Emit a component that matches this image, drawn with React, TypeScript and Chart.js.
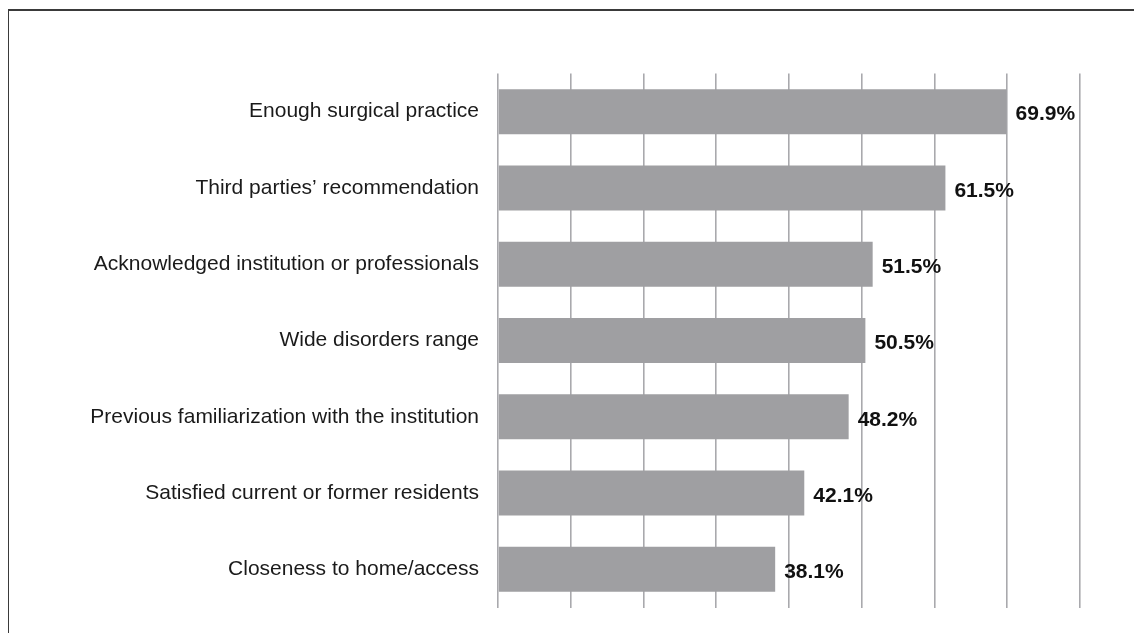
import React, { useEffect, useRef } from "react";
import { Chart, registerables } from "chart.js";

Chart.register(...registerables);

const categories = [
  "Enough surgical practice",
  "Third parties’ recommendation",
  "Acknowledged institution or professionals",
  "Wide disorders range",
  "Previous familiarization with the institution",
  "Satisfied current or former residents",
  "Closeness to home/access",
];
const values = [69.9, 61.5, 51.5, 50.5, 48.2, 42.1, 38.1];
const valueLabels = ["69.9%", "61.5%", "51.5%", "50.5%", "48.2%", "42.1%", "38.1%"];
const xMin = 0;
const xMax = 80;
const xStep = 10;

const FONT = "'Liberation Sans', Arial, Helvetica, sans-serif";

const valueLabelPlugin = {
  id: "valueLabels",
  afterDatasetsDraw(chart: any) {
    const ctx = chart.ctx;
    const meta = chart.getDatasetMeta(0);
    ctx.save();
    ctx.font = `bold 21px ${FONT}`;
    ctx.fillStyle = "#111111";
    ctx.textAlign = "left";
    ctx.textBaseline = "middle";
    meta.data.forEach((el: any, i: number) => {
      ctx.fillText(valueLabels[i], el.x + 9, el.y + 3);
    });
    ctx.restore();
  },
};

export default function App() {
  const canvasRef = useRef<HTMLCanvasElement | null>(null);

  useEffect(() => {
    if (!canvasRef.current) return;
    const chart = new Chart(canvasRef.current, {
      type: "bar",
      data: {
        labels: categories,
        datasets: [
          {
            data: values,
            backgroundColor: "#9f9fa2",
            borderWidth: 0,
            barPercentage: 0.59,
            categoryPercentage: 1,
          },
        ],
      },
      options: {
        indexAxis: "y",
        responsive: false,
        animation: false,
        layout: { padding: { left: 0, right: 54, top: 73.5, bottom: 25.5 } },
        plugins: {
          legend: { display: false },
          tooltip: { enabled: false },
        },
        scales: {
          x: {
            min: xMin,
            max: xMax,
            ticks: { display: false, stepSize: xStep },
            grid: {
              display: true,
              drawTicks: false,
              color: "#a9a9ad",
              lineWidth: 1.6,
            },
            border: { display: false },
            afterFit(scale: any) {
              scale.height = 0;
              scale.paddingLeft = 0;
              scale.paddingRight = 0;
            },
          },
          y: {
            ticks: {
              color: "#1a1a1a",
              font: { family: FONT, size: 21 },
              padding: 19,
            },
            grid: { display: false, drawTicks: false },
            border: { display: false },
            afterFit(scale: any) {
              scale.width = 498;
              scale.paddingTop = 0;
              scale.paddingBottom = 0;
            },
          },
        },
      },
      plugins: [valueLabelPlugin],
    });
    return () => chart.destroy();
  }, []);

  return (
    <div style={{ position: "fixed", left: 0, top: 0, width: 1134, height: 633, background: "#fff", overflow: "hidden" }}>
      <div
        style={{
          position: "absolute",
          left: 8,
          top: 9,
          width: 1126,
          height: 624,
          borderTop: "2px solid #3a3a3a",
          borderLeft: "1.5px solid #3a3a3a",
          boxSizing: "border-box",
        }}
      />
      <canvas ref={canvasRef} width={1134} height={633} style={{ position: "absolute", left: 0, top: 0 }} />
    </div>
  );
}
